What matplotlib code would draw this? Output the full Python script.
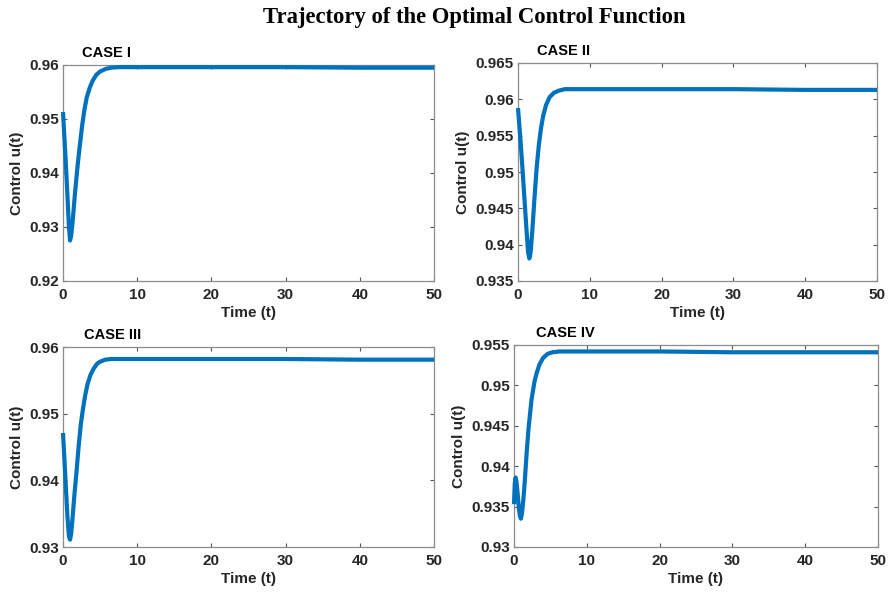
import matplotlib
matplotlib.use("Agg")
import matplotlib.pyplot as plt

# ---------------- data ----------------
t1 = [0, 0.2, 0.4, 0.6, 0.8, 0.95, 1.1, 1.3, 1.6, 2.0, 2.3, 2.6, 2.9, 3.2, 3.6, 4.0, 4.5, 5.0, 5.8, 6.5, 7.5, 9, 12, 20, 30, 40, 50]
u1 = [0.9513, 0.9463, 0.9413, 0.9358, 0.9300, 0.9275, 0.9284, 0.9310, 0.9360, 0.9418, 0.9455, 0.9490, 0.9518, 0.9540, 0.9558, 0.9571, 0.9582, 0.9588, 0.9593, 0.9595, 0.9596, 0.9596, 0.9596, 0.9596, 0.9596, 0.9595, 0.9595]

t2 = [0, 0.3, 0.6, 0.9, 1.2, 1.4, 1.58, 1.75, 2.0, 2.3, 2.6, 2.9, 3.2, 3.5, 3.9, 4.4, 5.0, 5.7, 6.5, 7.5, 9, 12, 20, 30, 40, 50]
u2 = [0.9588, 0.9550, 0.9508, 0.9463, 0.9418, 0.9390, 0.9381, 0.9389, 0.9420, 0.9465, 0.9506, 0.9537, 0.9560, 0.9577, 0.9592, 0.9603, 0.9609, 0.9612, 0.9614, 0.9614, 0.9614, 0.9614, 0.9614, 0.9614, 0.9613, 0.9613]

t3 = [0, 0.2, 0.4, 0.6, 0.8, 0.95, 1.1, 1.3, 1.55, 1.8, 2.1, 2.4, 2.7, 3.0, 3.3, 3.7, 4.1, 4.6, 5.0, 5.7, 6.5, 7.5, 9, 12, 20, 30, 40, 50]
u3 = [0.9471, 0.9430, 0.9387, 0.9345, 0.9316, 0.9311, 0.9320, 0.9345, 0.9380, 0.9410, 0.9450, 0.9484, 0.9508, 0.9528, 0.9544, 0.9558, 0.9567, 0.9575, 0.9578, 0.9581, 0.9582, 0.9582, 0.9582, 0.9582, 0.9582, 0.9582, 0.9581, 0.9581]

t4 = [0, 0.1, 0.22, 0.35, 0.5, 0.65, 0.8, 0.95, 1.1, 1.3, 1.5, 1.75, 2.0, 2.4, 2.8, 3.1, 3.5, 4.0, 4.6, 5.3, 6.2, 7.0, 8.5, 10, 15, 20, 30, 40, 50]
u4 = [0.9353, 0.9378, 0.9386, 0.9380, 0.9366, 0.9350, 0.9339, 0.9335, 0.9342, 0.9360, 0.9384, 0.9418, 0.9447, 0.9482, 0.9504, 0.9515, 0.9526, 0.9534, 0.9539, 0.9541, 0.9542, 0.9542, 0.9542, 0.9542, 0.9542, 0.9542, 0.9541, 0.9541, 0.9541]

case_titles = ["CASE I", "CASE II", "CASE III", "CASE IV"]
xticks = [0, 10, 20, 30, 40, 50]
yticks1 = [0.92, 0.93, 0.94, 0.95, 0.96]
ylabels1 = ["0.92", "0.93", "0.94", "0.95", "0.96"]
yticks2 = [0.935, 0.94, 0.945, 0.95, 0.955, 0.96, 0.965]
ylabels2 = ["0.935", "0.94", "0.945", "0.95", "0.955", "0.96", "0.965"]
yticks3 = [0.93, 0.94, 0.95, 0.96]
ylabels3 = ["0.93", "0.94", "0.95", "0.96"]
yticks4 = [0.93, 0.935, 0.94, 0.945, 0.95, 0.955]
ylabels4 = ["0.93", "0.935", "0.94", "0.945", "0.95", "0.955"]

# ---------------- figure ----------------
W, H = 894, 592
fig = plt.figure(figsize=(W / 100, H / 100), dpi=100)

def rect(l, r, top, bot):
    return [l / W, (H - bot) / H, (r - l) / W, (bot - top) / H]

panels = [
    (rect(63, 434, 65, 281), t1, u1, yticks1, ylabels1, case_titles[0], 0.116),
    (rect(518, 877, 63, 281), t2, u2, yticks2, ylabels2, case_titles[1], 0.128),
    (rect(63, 434, 347, 547), t3, u3, yticks3, ylabels3, case_titles[2], 0.133),
    (rect(514, 878, 345, 547), t4, u4, yticks4, ylabels4, case_titles[3], 0.14),
]

font = "Liberation Sans"
tick_col = "#262626"
spine_col = "#8c8c8c"

for pos, t, u, yt, yl, ttl, tx in panels:
    ax = fig.add_axes(pos)
    ax.plot(t, u, color="#0072BD", lw=3.0, solid_capstyle="butt",
            solid_joinstyle="round", clip_on=False, zorder=3)
    ax.set_xlim(0, 50)
    ax.set_ylim(yt[0], yt[-1])
    ax.set_xticks(xticks)
    ax.set_xticklabels([str(v) for v in xticks])
    ax.set_yticks(yt)
    ax.set_yticklabels(yl)
    for s in ax.spines.values():
        s.set_color(spine_col)
        s.set_linewidth(0.9)
    ax.tick_params(direction="in", length=3, width=0.8, color="#555555",
                   top=True, right=True, labelsize=11, labelcolor=tick_col, pad=3)
    ax.tick_params(axis="x", pad=5)
    for lab in ax.get_xticklabels() + ax.get_yticklabels():
        lab.set_fontweight("bold")
        lab.set_fontfamily(font)
    ax.set_xlabel("Time (t)", fontsize=11, fontweight="bold", family=font,
                  color=tick_col, labelpad=3)
    ax.set_ylabel("Control u(t)", fontsize=11, fontweight="bold", family=font,
                  color=tick_col, labelpad=4)
    ax.text(tx, 1.025, ttl, transform=ax.transAxes, ha="center", va="bottom",
            fontsize=10.5, fontweight="bold", family=font, color="black")

fig.text(0.53, 0.97, "Trajectory of the Optimal Control Function", ha="center", va="center",
         fontsize=16.3, fontweight="bold", family="Liberation Serif")

fig.savefig("out.png", dpi=100)
